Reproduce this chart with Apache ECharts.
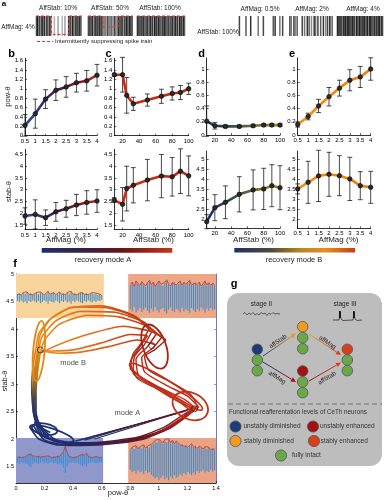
<!DOCTYPE html>
<html><head><meta charset="utf-8">
<script src="https://cdn.jsdelivr.net/npm/echarts@6/dist/echarts.min.js"></script>
<style>html,body{margin:0;padding:0;background:#fff}#c{width:384px;height:500px}</style>
</head><body><div id="c"></div>
<script>
const FONT = 'Liberation Sans, Arial, sans-serif';

// ---------- panel a : spike trains [position %, darkness 1-9] ----------
const spikeA1 = [[1,6],[3,9],[6,4],[8,8],[10,3],[12,7],[15,9],[17,5],[19,8],[22,3],[24,9],[26,6],[28,4],[30,8],[32,6],[40,2],[48,3],[57,2],[63,3],[71,9],[73,5],[75,7],[78,4],[80,9],[82,6],[84,3],[86,8],[88,5],[90,9],[92,4],[94,7],[96,9],[98,5]];
const spikeA2 = [[1,8],[3,5],[5,9],[7,4],[9,7],[11,9],[13,3],[15,6],[17,8],[19,5],[21,9],[23,4],[25,7],[27,9],[29,5],[31,8],[35,4],[38,6],[41,3],[44,7],[47,5],[50,4],[53,6],[56,3],[59,7],[62,5],[65,4],[68,9],[70,5],[72,8],[74,4],[76,9],[78,6],[80,3],[82,8],[84,5],[86,9],[88,7],[90,4],[92,8],[94,9],[96,5],[98,7]];
const spikeA3 = [[1,9],[3,6],[5,8],[7,4],[9,9],[11,5],[13,7],[15,9],[17,3],[19,8],[21,6],[23,9],[25,4],[27,7],[29,9],[31,5],[33,8],[35,3],[37,9],[39,6],[41,8],[43,4],[45,9],[47,6],[49,7],[51,3],[53,9],[55,5],[57,8],[59,9],[61,4],[63,7],[65,5],[67,9],[69,3],[71,8],[73,6],[75,9],[77,4],[79,7],[81,9],[83,5],[85,8],[87,3],[89,9],[91,6],[93,8],[95,4],[97,9],[99,6]];
const spikeB1 = [[3,7],[17,6],[27,8],[43,5],[54,7],[75,6],[79,8],[89,5],[95,7]];
const spikeB2 = [[4,7],[7,5],[13,8],[16,4],[20,6],[31,7],[36,5],[42,8],[46,6],[51,4],[57,8],[60,5],[65,7],[71,6],[77,8],[82,4],[86,7],[91,9],[96,6]];
const spikeB3 = [[1,8],[3,9],[5,5],[7,9],[9,6],[11,8],[13,4],[15,9],[17,7],[19,9],[21,5],[23,8],[25,9],[27,6],[29,9],[31,4],[33,8],[35,9],[37,6],[39,8],[41,3],[43,9],[45,7],[47,5],[49,9],[51,8],[53,4],[55,9],[57,6],[59,8],[61,9],[63,5],[65,7],[67,9],[69,4],[71,8],[73,9],[75,6],[77,8],[79,3],[81,9],[83,7],[85,5],[87,9],[89,6],[91,8],[93,9],[95,4],[97,8],[99,7]];
const suppressA1 = [[0,1],[34,1],[34,0.08],[71,0.08],[71,1],[100,1]];
const suppressA2 = [[0,1],[33,1],[33,0.45],[67,0.45],[67,1],[100,1]];
const suppressA3 = [[0,1],[100,1]];

// ---------- panels b-e ----------
const affMag = [0.5,1,1.5,2,2.5,3,3.5,4];
const affStabA = [10,20,25,33,50,67,80,90,100];
const affStabB = [10,20,33,50,67,80,90,100];
const powA_mag = [0.22,0.47,0.78,0.97,1.04,1.13,1.17,1.29];
const powA_magErr = [0.23,0.31,0.2,0.22,0.22,0.2,0.22,0.23];
const powA_stab = [1.3,1.3,0.86,0.68,0.76,0.84,0.9,0.92,1.0];
const powA_stabErr = [0.03,0.37,0.38,0.14,0.13,0.15,0.14,0.15,0.12];
const powB_stab = [0.21,0.14,0.13,0.13,0.14,0.15,0.15,0.15];
const powB_stabErr = [0.23,0.05,0.02,0.02,0.02,0.02,0.02,0.02];
const powB_mag = [0.16,0.28,0.44,0.58,0.71,0.83,0.88,1.0];
const powB_magErr = [0.04,0.05,0.1,0.14,0.12,0.16,0.16,0.17];
const stabA_mag = [1.88,1.95,1.81,2.06,2.19,2.35,2.46,2.52];
const stabA_magErr = [0.35,0.62,0.33,0.4,0.36,0.45,0.5,0.48];
const stabA_stab = [2.56,2.38,3.05,3.19,3.41,3.58,3.55,3.79,3.59];
const stabA_stabErr = [0.1,0.71,0.95,0.75,0.88,0.92,0.82,0.95,0.85];
const stabB_stab = [1.88,2.58,2.85,3.25,3.47,3.52,3.68,3.58];
const stabB_stabErr = [0.35,0.65,0.82,0.88,1.0,1.03,1.05,1.1];
const stabB_mag = [3.52,3.85,4.17,4.25,4.18,4.02,3.68,3.6];
const stabB_magErr = [0.25,1.05,1.28,1.1,1.0,1.08,0.7,0.8];
const magTicks = [0.5,1,1.5,2,2.5,3,3.5,4];
const stabTicks = [20,40,60,80,100];
const powTicksA = [0,0.2,0.4,0.6,0.8,1,1.2,1.4,1.6];
const powTicksB = [0,0.2,0.4,0.6,0.8,1];
const stabTicksA = [1.5,2,2.5,3,3.5,4,4.5];
const stabTicksB = [2,2.5,3,3.5,4,4.5,5];

// ---------- panel f ----------
const fXTicks = [0,0.2,0.4,0.6,0.8,1,1.2,1.4];
const fYTicks = [1.5,2,2.5,3,3.5,4,4.5,5];
const insetBoxes = [[0,4.2,0.615,5],[0.785,4.2,1.4,5],[0,1.2,0.61,2.02],[0.785,1.2,1.4,2.02]];
const sigTopLeft = [0.06,0.08,0.05,0.09,0.07,0.1,0.06,0.08,0.05,0.07,0.09,0.06,0.1,0.08,0.05,0.07,0.11,0.06,0.08,0.09,0.05,0.07,0.1,0.06,0.08,0.05,0.09,0.07,0.11,0.06,0.08,0.05,0.07,0.09,0.1,0.06,0.08,0.05,0.07,0.09,0.06,0.08,0.05,0.06,0.04];
const sigTopRight = [0.22,0.26,0.18,0.28,0.24,0.2,0.27,0.23,0.19,0.25,0.29,0.21,0.26,0.18,0.24,0.28,0.22,0.2,0.26,0.3,0.23,0.19,0.25,0.27,0.21,0.24,0.28,0.2,0.26,0.22,0.25,0.29,0.2,0.24,0.27,0.22,0.26,0.19,0.23,0.28,0.21,0.25,0.2,0.24,0.22];
const sigBotLeft = [0.05,0.07,0.04,0.06,0.05,0.07,0.1,0.13,0.07,0.05,0.06,0.08,0.05,0.04,0.06,0.05,0.07,0.05,0.04,0.06,0.05,0.08,0.06,0.09,0.14,0.24,0.12,0.06,0.05,0.04,0.06,0.05,0.07,0.09,0.11,0.08,0.12,0.06,0.05,0.04,0.05,0.06,0.05,0.04,0.05];
const sigBotRight = [0.18,0.22,0.2,0.25,0.19,0.23,0.21,0.26,0.2,0.24,0.22,0.27,0.3,0.34,0.31,0.36,0.33,0.29,0.35,0.32,0.37,0.3,0.34,0.28,0.33,0.3,0.26,0.29,0.24,0.27,0.22,0.25,0.28,0.23,0.26,0.2,0.24,0.21,0.19,0.23,0.2,0.22,0.18,0.21,0.19];
const trajBottom = [
 [[0.15,2.3],[0.22,2.02],[0.4,1.9],[0.65,1.93],[0.9,2.02],[1.08,2.2],[1.2,2.42],[1.26,2.55]],
 [[0.12,2.25],[0.2,1.98],[0.38,1.88],[0.62,1.9],[0.88,1.99],[1.06,2.18],[1.18,2.4],[1.24,2.52]],
 [[0.17,2.2],[0.26,1.97],[0.45,1.91],[0.7,1.95],[0.92,2.05],[1.1,2.25],[1.22,2.47],[1.28,2.58]],
 [[0.13,2.32],[0.18,2.06],[0.33,1.93],[0.58,1.94],[0.85,2.03],[1.04,2.22],[1.17,2.44],[1.25,2.56]],
 [[0.2,2.15],[0.3,1.95],[0.5,1.92],[0.75,1.96],[0.95,2.08],[1.12,2.28],[1.21,2.5],[1.27,2.6]],
 [[0.1,2.2],[0.16,2.0],[0.3,1.89],[0.55,1.9],[0.8,1.98],[1.02,2.15],[1.16,2.38],[1.23,2.5]]
];
const trajDiag = [
 [[0.42,1.96],[1.2,2.52]],[[0.48,1.98],[1.22,2.55]],[[0.38,1.94],[1.18,2.5]],[[0.55,2.0],[1.24,2.56]]
];
const trajRight = [
 [[1.26,2.55],[1.18,2.72],[1.02,2.92],[0.86,3.15],[0.84,3.45],[0.92,3.68],[0.98,3.9]],
 [[1.24,2.52],[1.15,2.7],[0.98,2.95],[0.82,3.2],[0.83,3.5],[0.9,3.72],[0.95,3.95]],
 [[1.28,2.58],[1.2,2.78],[1.05,2.98],[0.9,3.22],[0.88,3.48],[0.96,3.66],[1.02,3.85]],
 [[1.25,2.56],[1.12,2.76],[0.96,3.0],[0.8,3.28],[0.82,3.55],[0.88,3.75],[0.93,4.0]],
 [[1.27,2.6],[1.22,2.82],[1.08,3.04],[0.93,3.25],[0.9,3.5],[0.97,3.62],[1.05,3.8]],
 [[1.23,2.5],[1.14,2.68],[1.0,2.9],[0.85,3.1],[0.8,3.4],[0.86,3.65],[0.92,3.88]]
];
const trajTop = [
 [[0.98,3.9],[0.9,4.12],[0.7,4.3],[0.45,4.32],[0.28,4.15],[0.18,3.85],[0.16,3.62]],
 [[0.95,3.95],[0.85,4.2],[0.65,4.38],[0.4,4.4],[0.25,4.2],[0.17,3.9],[0.15,3.6]],
 [[1.02,3.85],[0.92,4.05],[0.72,4.22],[0.5,4.25],[0.3,4.08],[0.2,3.8],[0.17,3.58]],
 [[0.93,4.0],[0.82,4.25],[0.6,4.42],[0.38,4.38],[0.24,4.18],[0.16,3.92],[0.14,3.65]],
 [[1.05,3.8],[0.95,3.95],[0.75,4.05],[0.5,3.9],[0.3,3.72],[0.2,3.6],[0.16,3.55]],
 [[0.92,3.88],[0.8,3.9],[0.6,3.75],[0.4,3.62],[0.25,3.6],[0.17,3.6]],
 [[0.97,3.72],[0.85,3.8],[0.65,3.68],[0.45,3.58],[0.3,3.56],[0.18,3.6]]
];
const trajLeft = [
 [[0.16,3.62],[0.14,3.3],[0.13,2.95],[0.13,2.6],[0.15,2.35],[0.2,2.15]],
 [[0.15,3.6],[0.13,3.25],[0.12,2.9],[0.12,2.55],[0.14,2.3],[0.18,2.1]],
 [[0.17,3.58],[0.15,3.2],[0.14,2.85],[0.14,2.5],[0.16,2.28],[0.22,2.1]],
 [[0.14,3.65],[0.12,3.35],[0.11,3.0],[0.115,2.65],[0.13,2.4],[0.16,2.2]],
 [[0.16,3.55],[0.14,3.15],[0.13,2.8],[0.135,2.45],[0.15,2.25],[0.24,2.12]]
];
// ellipses: [cx, cy, radius along x (data), radius along y (data), rotation deg ccw]
const ellBlue = [[0.25,2.1,0.16,0.09,-18],[0.2,2.18,0.09,0.1,-10]];
const ellOrange = [[0.16,3.6,0.04,0.55,-5]];
const ellRedUp = [[0.97,3.68,0.08,0.42,20]];
const ellRedLow = [[1.22,2.6,0.13,0.24,-25],[1.05,2.95,0.3,0.12,-32]];
const attractors = [[0.17,3.62],[0.95,3.7],[1.25,2.55]];

// ---------- helpers ----------
const LG = (x2, y2, stops) => new echarts.graphic.LinearGradient(0,0,x2,y2, stops.map((c,i)=>({offset: c[0], color: c[1]})));
const gradA = LG(1,0,[[0,'#2b4c9e'],[0.45,'#3a2048'],[0.75,'#8a1a1e'],[1,'#c62a15']]);
const gradAred = LG(1,0,[[0,'#cf2c10'],[1,'#c4260f']]);
const gradBnavy = LG(1,0,[[0,'#1c2f6e'],[0.3,'#2e4450'],[0.65,'#70702c'],[1,'#b08c1e']]);
const gradBorange = LG(1,0,[[0,'#f2900f'],[1,'#ee7810']]);

function spikeItem(params, api){
  const p = api.value(0), d = api.value(1);
  const a = api.coord([p,0]), b = api.coord([p,1]);
  const g = Math.round(225 - d*22);
  return {type:'line', shape:{x1:a[0],y1:a[1],x2:b[0],y2:b[1]}, style:{stroke:'rgb('+g+','+g+','+g+')', lineWidth:1.5}};
}
function errItem(params, api){
  const x = api.value(0), y = api.value(1), e = api.value(2);
  const p1 = api.coord([x,y+e]), p2 = api.coord([x,y-e]);
  const w = 2.4, st = {stroke:'#1a1a1a', lineWidth:0.8};
  return {type:'group', children:[
    {type:'line', shape:{x1:p1[0],y1:p1[1],x2:p2[0],y2:p2[1]}, style:st},
    {type:'line', shape:{x1:p1[0]-w,y1:p1[1],x2:p1[0]+w,y2:p1[1]}, style:st},
    {type:'line', shape:{x1:p2[0]-w,y1:p2[1],x2:p2[0]+w,y2:p2[1]}, style:st}
  ]};
}
function sigItem(params, api){
  const x = api.value(0), b = api.value(1), a = api.value(2);
  const p1 = api.coord([x,b+a]), p2 = api.coord([x,b-a]);
  return {type:'line', shape:{x1:p1[0],y1:p1[1],x2:p2[0],y2:p2[1]}, style:{stroke:'#3b8fd6', lineWidth:1.1}};
}
function ellItem(params, api){
  const c = api.coord([api.value(0), api.value(1)]);
  const s = api.size([api.value(2), api.value(3)]);
  return {type:'ellipse', x:c[0], y:c[1], rotation: api.value(4)*Math.PI/180,
    shape:{cx:0, cy:0, rx:s[0], ry:s[1]}, style:{fill:'none', stroke: api.visual('color'), lineWidth:1.8}};
}
const boxColors = ['#f9d59e','#eea886','#8f97cb','#eaa385'];
function boxItem(params, api){
  const p1 = api.coord([api.value(0), api.value(3)]), p2 = api.coord([api.value(2), api.value(1)]);
  return {type:'rect', shape:{x:p1[0], y:p1[1], width:p2[0]-p1[0], height:p2[1]-p1[1]}, style:{fill: boxColors[params.dataIndex]}};
}

function axX(gi, min, max, ticks, fs){
  return {gridIndex:gi, type:'value', min:min, max:max,
    axisLine:{show:true, onZero:false, lineStyle:{color:'#000', width:0.8}},
    axisTick:{show:true, inside:true, length:2, customValues:ticks, lineStyle:{color:'#000', width:0.6}},
    axisLabel:{customValues:ticks, fontSize:fs||6, margin:2.5, color:'#000', fontFamily:FONT},
    splitLine:{show:false}};
}
function axY(gi, min, max, ticks, fs){
  return {gridIndex:gi, type:'value', min:min, max:max,
    axisLine:{show:true, onZero:false, lineStyle:{color:'#000', width:0.8}},
    axisTick:{show:true, inside:true, length:2, customValues:ticks, lineStyle:{color:'#000', width:0.6}},
    axisLabel:{customValues:ticks, fontSize:fs||6, margin:2, color:'#000', fontFamily:FONT},
    splitLine:{show:false}};
}
const hideAx = (gi, min, max) => ({gridIndex:gi, type:'value', min:min, max:max, show:false});

const grids = [
  {left:36, top:16, width:46, height:20},
  {left:88, top:16, width:45, height:20},
  {left:137, top:16, width:48, height:20},
  {left:238, top:16, width:47, height:20},
  {left:288, top:16, width:46, height:20},
  {left:337, top:16, width:46, height:20},
  {left:25, top:58.3, width:72, height:77.4},
  {left:114.3, top:58.3, width:74.4, height:77.4},
  {left:206.7, top:57.8, width:73.3, height:77.2},
  {left:297.7, top:57.8, width:73, height:77.2},
  {left:25, top:149.3, width:72, height:80.4},
  {left:114.3, top:149.3, width:74.4, height:80.4},
  {left:206.7, top:151.1, width:73.3, height:77.2},
  {left:297.7, top:151.1, width:73, height:77.2},
  {left:16, top:274, width:200, height:209}
];
const xAxes = [], yAxes = [];
for (let i=0;i<6;i++){ xAxes.push(hideAx(i,0,100)); yAxes.push(hideAx(i,0,1)); }
xAxes.push(axX(6,0.5,4,magTicks));   yAxes.push(axY(6,0,1.65,powTicksA));
xAxes.push(axX(7,10,100,stabTicks)); yAxes.push(axY(7,0,1.65,powTicksA));
xAxes.push(axX(8,10,100,stabTicks)); yAxes.push(axY(8,0,1.17,powTicksB));
xAxes.push(axX(9,0.5,4,magTicks));   yAxes.push(axY(9,0,1.17,powTicksB));
xAxes.push(axX(10,0.5,4,magTicks));  yAxes.push(axY(10,1.3,4.72,stabTicksA));
xAxes.push(axX(11,10,100,stabTicks)); yAxes.push(axY(11,1.3,4.72,stabTicksA));
xAxes.push(axX(12,10,100,stabTicks)); yAxes.push(axY(12,1.55,5.41,stabTicksB));
xAxes.push(axX(13,0.5,4,magTicks));  yAxes.push(axY(13,1.55,5.41,stabTicksB));
xAxes.push(axX(14,0,1.4,fXTicks,5.5)); yAxes.push(axY(14,1.2,5,fYTicks,5.5));
const fRight = axY(14,1.2,5,fYTicks,5.5);
fRight.position = 'right'; fRight.axisLabel.show = false; fRight.axisLine.lineStyle.color = '#4d57a6'; fRight.axisTick.lineStyle.color = '#4d57a6';
yAxes.push(fRight); // index 15

const series = [];
const spikeSets = [spikeA1, spikeA2, spikeA3, spikeB1, spikeB2, spikeB3];
spikeSets.forEach((s,i)=>series.push({type:'custom', xAxisIndex:i, yAxisIndex:i, renderItem:spikeItem, data:s, silent:true}));
[suppressA1, suppressA2, suppressA3].forEach((s,i)=>series.push({type:'line', xAxisIndex:i, yAxisIndex:i, data:s, symbol:'none', clip:false, z:5,
  lineStyle:{color:'#e2322a', width:1, type:[3,2]}, silent:true}));

function addPlot(gi, xs, ys, es, grad){
  series.push({type:'custom', xAxisIndex:gi, yAxisIndex:gi, renderItem:errItem, data: xs.map((x,i)=>[x,ys[i],es[i]]), z:2, silent:true});
  series.push({type:'line', xAxisIndex:gi, yAxisIndex:gi, data: xs.map((x,i)=>[x,ys[i]]), symbol:'circle', symbolSize:4.5, z:3,
    lineStyle:{width:2.6, color:grad}, itemStyle:{color:'#2a2a2a', borderColor:'#000', borderWidth:0.6}, silent:true});
}
addPlot(6, affMag, powA_mag, powA_magErr, gradA);
addPlot(7, affStabA, powA_stab, powA_stabErr, gradAred);
addPlot(8, affStabB, powB_stab, powB_stabErr, gradBnavy);
addPlot(9, affMag, powB_mag, powB_magErr, gradBorange);
addPlot(10, affMag, stabA_mag, stabA_magErr, gradA);
addPlot(11, affStabA, stabA_stab, stabA_stabErr, gradAred);
addPlot(12, affStabB, stabB_stab, stabB_stabErr, gradBnavy);
addPlot(13, affMag, stabB_mag, stabB_magErr, gradBorange);

// panel f
series.push({type:'custom', xAxisIndex:14, yAxisIndex:14, renderItem:boxItem, data:insetBoxes, z:1, silent:true});
const sigSpecs = [[sigTopLeft,0.01,0.6,4.57],[sigTopRight,0.8,1.39,4.58],[sigBotLeft,0.01,0.6,1.62],[sigBotRight,0.8,1.39,1.62]];
sigSpecs.forEach(sp=>{
  const arr = sp[0], x0 = sp[1], x1 = sp[2], base = sp[3], dx = (x1-x0)/(arr.length-1);
  series.push({type:'custom', xAxisIndex:14, yAxisIndex:14, renderItem:sigItem, data: arr.map((a,i)=>[x0+i*dx, base, a]), z:2, silent:true});
  series.push({type:'line', xAxisIndex:14, yAxisIndex:14, data: arr.map((a,i)=>[x0+i*dx, base+a*1.05]), symbol:'none', z:2,
    lineStyle:{color:'#c8352a', width:0.8}, silent:true});
});
function addTraj(set, grad, w){
  set.forEach(path=>series.push({type:'line', xAxisIndex:14, yAxisIndex:14, data:path, symbol:'none', smooth:0.2, z:3,
    lineStyle:{color:grad, width:w}, silent:true}));
}
addTraj(trajBottom, LG(1,0,[[0,'#1e2f72'],[0.3,'#22295e'],[0.62,'#5a1428'],[1,'#b8281a']]), 1.5);
addTraj(trajDiag, LG(1,0,[[0,'#1e2f72'],[0.5,'#3a1a3a'],[1,'#8a1a1a']]), 1.1);
addTraj(trajRight, LG(0,1,[[0,'#a8200f'],[1,'#c2301a']]), 1.4);
addTraj(trajTop, LG(1,0,[[0,'#ec8c12'],[0.5,'#e0681a'],[1,'#b42a10']]), 1.6);
addTraj(trajLeft, LG(0,1,[[0,'#e8880f'],[0.3,'#c07a18'],[0.55,'#4d4a3a'],[0.8,'#1e3070'],[1,'#1e2f72']]), 1.7);
[[ellBlue,'#1f3276'],[ellOrange,'#e8860f'],[ellRedUp,'#a82212'],[ellRedLow,'#c23216']].forEach(e=>
  series.push({type:'custom', xAxisIndex:14, yAxisIndex:14, renderItem:ellItem, data:e[0], itemStyle:{color:e[1]}, z:4, silent:true}));
series.push({type:'scatter', xAxisIndex:14, yAxisIndex:14, data:attractors, symbol:'circle', symbolSize:6, z:5,
  itemStyle:{color:'rgba(0,0,0,0)', borderColor:'#3a2a2a', borderWidth:1}, silent:true});
series.push({type:'scatter', xAxisIndex:14, yAxisIndex:14, data:[[0.4,3.38,'mode B'],[0.78,2.48,'mode A']], symbolSize:0, z:6,
  label:{show:true, position:'inside', formatter:p=>p.value[2], fontSize:7.5, color:'#222', fontFamily:FONT}, silent:true});

// ---------- graphic: texts, colorbars, panel g ----------
const T = (x,y,text,o) => Object.assign({type:'text', x:x, y:y, style:Object.assign({text:text, fontSize:6.5, fontFamily:FONT, fill:'#222', align:'center', verticalAlign:'middle'}, (o&&o.style)||{})}, o&&o.rot!==undefined?{rotation:o.rot}:{} );
const G = [];
// panel a
G.push(T(4,4,'a',{style:{fontSize:8, fontWeight:'bold', fill:'#000'}}));
G.push(T(58,8.5,'AffStab: 10%'));
G.push(T(110,8.5,'AffStab: 50%'));
G.push(T(160,8.5,'AffStab: 100%'));
G.push(T(260,9,'AffMag: 0.5%'));
G.push(T(312,9,'AffMag: 2%'));
G.push(T(363,9,'AffMag: 4%'));
G.push(T(18,27,'AffMag: 4%'));
G.push(T(218,32,'AffStab: 100%'));
G.push({type:'line', shape:{x1:37,y1:41.5,x2:53,y2:41.5}, style:{stroke:'#e2322a', lineWidth:1, lineDash:[3,2]}});
G.push(T(55,41.5,'Intermittently suppressing spike train',{style:{align:'left', fontSize:6}}));
// panel letters
[['b',11.5,53.5],['c',108.5,54],['d',201.5,53.5],['e',292,53.5],['f',15,264],['g',234,284]].forEach(l=>
  G.push(T(l[1],l[2],l[0],{style:{fontSize:11, fontWeight:'bold', fill:'#000'}})));
// axis names
G.push(T(8.3,96.5,'pow-θ',{rot:Math.PI/2, style:{fontSize:7.5}}));
G.push(T(9,191.5,'stab-θ',{rot:Math.PI/2, style:{fontSize:7.5}}));
G.push(T(66,239.5,'AffMag (%)',{style:{fontSize:8}}));
G.push(T(153.5,239.5,'AffStab (%)',{style:{fontSize:8}}));
G.push(T(253.5,239.5,'AffStab (%)',{style:{fontSize:8}}));
G.push(T(338.5,239.5,'AffMag (%)',{style:{fontSize:8}}));
G.push(T(4.5,381,'stab-θ',{rot:Math.PI/2, style:{fontSize:7.5}}));
G.push(T(118,493,'pow-θ',{style:{fontSize:7.5}}));
// colorbars
G.push({type:'rect', shape:{x:41.7,y:248,width:130.6,height:4.8}, style:{fill:LG(1,0,[[0,'#1f2e6b'],[0.35,'#37203f'],[0.62,'#6b1414'],[1,'#c2361b']])}});
G.push({type:'rect', shape:{x:234.3,y:248,width:120.7,height:4.6}, style:{fill:LG(1,0,[[0,'#1e2e6a'],[0.3,'#4e4a38'],[0.55,'#b8861a'],[0.75,'#e8901a'],[1,'#cc3c12']])}});
G.push(T(103,259.5,'recovery mode A',{style:{fontSize:7.5}}));
G.push(T(294,259.5,'recovery mode B',{style:{fontSize:7.5}}));
// panel g
G.push({type:'rect', shape:{x:227,y:293,width:155,height:173,r:12}, style:{fill:'#bdbdbd'}});
G.push(T(261.5,304,'stage II',{style:{fontSize:6.5}}));
G.push(T(345,304,'stage III',{style:{fontSize:6.5}}));
G.push({type:'polyline', shape:{points:[[243,314],[245,312.5],[247,315],[249,313],[251,314.5],[253,312.5],[255,315],[257,313.5],[259,315],[261,312.5],[263,314],[265,313],[267,315.5],[269,313],[271,314.5],[273,312.5],[275,314],[277,313.5],[280,314]]}, style:{stroke:'#333', lineWidth:0.7, fill:null}});
G.push({type:'polyline', shape:{points:[[333,320],[339,320],[340,312],[341,319],[343,320.5],[353,320],[354,312],[355,319],[357,320.5],[362,320]]}, style:{stroke:'#222', lineWidth:0.7, fill:null}});
G.push({type:'rect', shape:{x:339,y:311,width:1.8,height:7}, style:{fill:'#111'}});
G.push({type:'rect', shape:{x:353,y:311,width:1.8,height:7}, style:{fill:'#111'}});
function arrow(x1,y1,x2,y2,c1,c2){
  const ang = Math.atan2(y2-y1,x2-x1), L=5, W=2.4;
  const bx = x2 - L*Math.cos(ang), by = y2 - L*Math.sin(ang);
  G.push({type:'line', shape:{x1:x1,y1:y1,x2:bx,y2:by}, style:{stroke:new echarts.graphic.LinearGradient(x1,y1,x2,y2,[{offset:0,color:c1},{offset:1,color:c2}],true), lineWidth:1}});
  G.push({type:'polygon', shape:{points:[[x2,y2],[bx - W*Math.sin(ang), by + W*Math.cos(ang)],[bx + W*Math.sin(ang), by - W*Math.cos(ang)]]}, style:{fill:c2}});
}
const NAVY='#1f3a7a', ORANGE='#f29a1e', DRED='#a31212', RORANGE='#d8401a', GREEN='#6aa84a';
arrow(263,356,296,333.5,NAVY,ORANGE);
arrow(309,334,341,355,ORANGE,RORANGE);
arrow(263,362,296,382,NAVY,DRED);
arrow(309,381,341,362.5,DRED,RORANGE);
const C = (x,y,col,r) => ({type:'circle', shape:{cx:x, cy:y, r:r||5.3}, style:{fill:col, stroke:'#555', lineWidth:0.8}});
[[257.3,349.3,NAVY],[257.3,360,GREEN],[257.3,370.7,GREEN],
 [302.7,326.7,ORANGE],[302.7,337.7,GREEN],[302.7,348.7,GREEN],
 [302.7,371,DRED],[302.7,382,GREEN],[302.7,392.7,GREEN],
 [347.3,349.3,RORANGE],[347.3,360,GREEN],[347.3,370.7,GREEN]].forEach(c=>G.push(C(c[0],c[1],c[2])));
G.push(T(278,341.5,'affStab',{rot:0.6, style:{fontSize:6.3}}));
G.push(T(327.5,342.5,'affMag',{rot:-0.6, style:{fontSize:6.3}}));
G.push(T(277,377.5,'affMag',{rot:-0.55, style:{fontSize:6.3}}));
G.push(T(327,378,'affStab',{rot:0.55, style:{fontSize:6.3}}));
G.push({type:'line', shape:{x1:228,y1:404,x2:382,y2:404}, style:{stroke:'#707070', lineWidth:1, lineDash:[5,3]}});
G.push(T(229,412.5,'Functional reafferentation levels of CeTh neurons',{style:{align:'left', fontSize:6.3, fill:'#333'}}));
G.push(C(235.5,426.5,NAVY,5.6)); G.push(T(243.5,426.5,'unstably diminished',{style:{align:'left', fontSize:6.5, fill:'#333'}}));
G.push(C(313,426.5,DRED,5.6));   G.push(T(320,426.5,'unstably enhanced',{style:{align:'left', fontSize:6.5, fill:'#333'}}));
G.push(C(235.5,441,ORANGE,5.6)); G.push(T(244,441,'stably diminished',{style:{align:'left', fontSize:6.5, fill:'#333'}}));
G.push(C(314,441,RORANGE,5.6));  G.push(T(320.5,441,'stably enhanced',{style:{align:'left', fontSize:6.5, fill:'#333'}}));
G.push(C(281,455.5,GREEN,5.6));  G.push(T(292,455.5,'fully intact',{style:{align:'left', fontSize:6.5, fill:'#333'}}));

const chart = echarts.init(document.getElementById('c'), null, {renderer:'canvas'});
chart.setOption({animation:false, backgroundColor:'#fff', grid:grids, xAxis:xAxes, yAxis:yAxes, series:series, graphic:{elements:G}});
</script></body></html>
